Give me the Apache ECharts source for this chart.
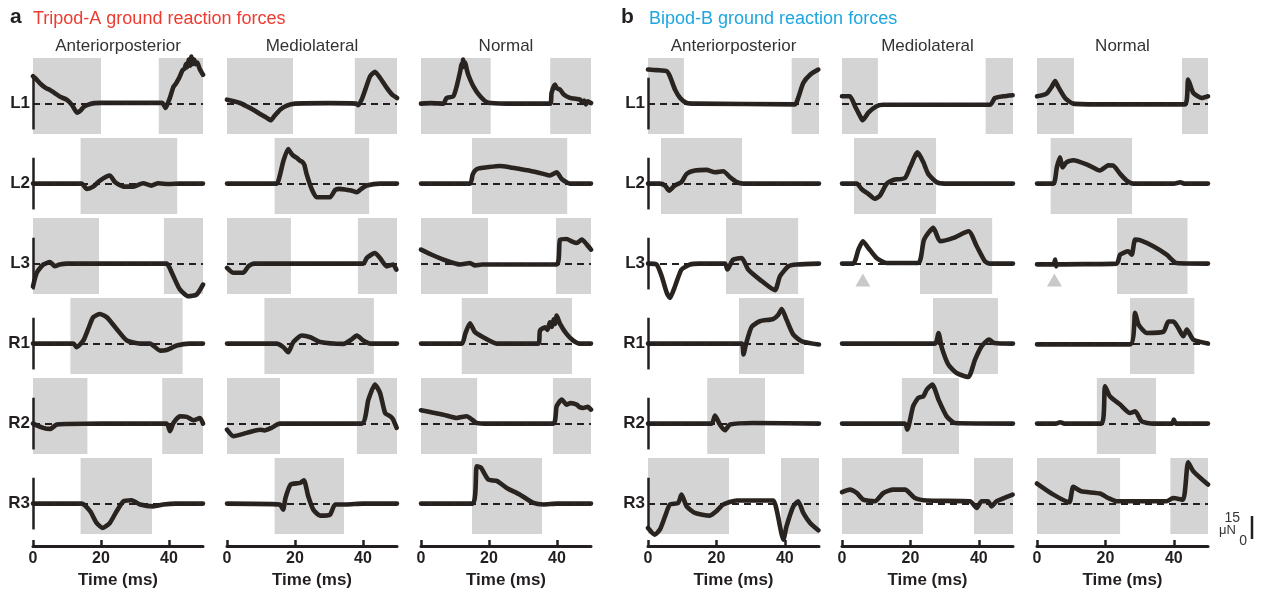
<!DOCTYPE html>
<html><head><meta charset="utf-8">
<script src="https://cdn.jsdelivr.net/npm/echarts@6/dist/echarts.min.js"></script>
<style>html,body{margin:0;padding:0;background:#fff}#c{width:1261px;height:594px}</style>
</head><body><div id="c"></div>
<script>
const rows = ['L1','L2','L3','R1','R2','R3'];
const columns = ['Anteriorposterior','Mediolateral','Normal'];
const timeTicks = [0, 20, 40];

// ---- Tripod-A traces: [time ms, force μN]
const A_AP_L1 = [[0,18],[1,16],[2,13.5],[3,11.5],[4,10],[5,9],[6,7.5],[8,4.5],[10,2.5],[11.5,-1],[13,-6],[14,-4.5],[15,-2],[16.3,-0.7],[18,0.3],[20,0.5],[30,0.5],[38,0.5],[38.5,-1],[39,-2.8],[39.6,0],[40.3,4],[41.3,11],[42,13],[42.5,15],[43,17],[44,22],[44.6,23],[45,26],[45.4,24],[45.8,29],[46.2,25],[46.6,31],[47,26],[47.4,29],[47.8,26],[48.3,27],[49,23],[50,19]];
const A_AP_L2 = [[0,0],[14.3,0],[15.8,-3.5],[17.7,-2],[19.7,2],[22.6,5.3],[24.1,1],[26.6,-2],[29.5,-2],[32.4,0.2],[34.8,-1.3],[36.8,0.2],[40,-0.3],[43,0],[50,0]];
const A_AP_L3 = [[0,-15],[1.1,-6],[3,-0.7],[5,1],[6.4,-1.7],[7.8,-0.6],[10,0],[20,0],[39.3,0],[40,-2],[41.3,-8.3],[43.2,-17],[45.7,-21.5],[48.1,-20.4],[50,-13.8]];
const A_AP_R1 = [[0,0],[11.9,0],[12.8,-2.4],[14.8,2],[16.3,10],[17.7,17.3],[19.7,19.5],[21.7,17.3],[24.6,9.6],[27.6,2],[31.5,0],[34.4,0],[37.4,-4.6],[39.3,-4.2],[42.3,-1.3],[46,0],[50,0]];
const A_AP_R2 = [[0,0],[3,-2.8],[5,-3.5],[7,-0.6],[10,-0.3],[20,0],[39.3,0],[40.3,-5],[41.3,0.4],[43.2,4.8],[45.2,4.4],[47.2,2.2],[49.1,3.7],[50,0]];
const A_AP_R3 = [[0,0],[14.3,0],[16.8,-5],[18.7,-12.7],[20.5,-16],[22.6,-12.7],[24.6,-5],[26.6,1.5],[29,2.2],[31.5,-0.6],[35.4,-1.8],[38.3,-0.6],[42,0],[50,0]];

const A_ML_L1 = [[0,2.6],[2,1.5],[3.8,0.4],[6,-2],[7.7,-4],[9.5,-6.5],[11.7,-9.4],[12.8,-11],[14,-8],[15.6,-4],[17.6,-1.3],[20,0],[30,0.3],[38,0],[38.6,-1],[39.6,2.6],[40.8,10],[42.1,18],[43.5,21],[45,17],[47,10.3],[48.5,6],[50,3.7]];
const A_ML_L2 = [[0,0],[14.6,0],[15.5,5],[16.6,15],[18,22.8],[19,19.5],[19.5,18.4],[20.5,17],[21.5,15],[22,14.5],[22.4,13.6],[22.8,12],[23.4,6.4],[24.9,-3.5],[26.4,-9],[30.3,-9],[31.8,-4.2],[33,-3.5],[35,-4],[36.5,-4.5],[38.2,-5.7],[39.5,-3.5],[41.1,-1.3],[45,0],[50,0]];
const A_ML_L3 = [[0,-2.8],[1.9,-6],[4.8,-6],[6.3,-1.7],[8,0],[40.1,0],[41.1,3.7],[43.5,7],[45,3.7],[47,-1.8],[48.9,-0.6],[49.8,-4]];
const A_ML_R1 = [[0,0],[14.6,0],[16.6,-2.4],[18,-5.7],[19.5,1],[22,5.3],[24.5,4.2],[27.4,1],[34.3,-0.2],[36.5,2.5],[38.2,5.3],[40.1,2],[42.1,0],[50,0]];
const A_ML_R2 = [[0,-4],[1.9,-8.3],[5.8,-6.1],[9.7,-4],[11,-4.5],[13.1,-2.8],[15.5,0],[39.6,0],[41.6,15.8],[43.5,25.7],[45,20.2],[46.5,7],[48,4.8],[48.8,3],[49.9,-2.8]];
const A_ML_R3 = [[0,0],[15.5,-0.6],[16.5,-4],[17.2,3.7],[18.7,12.5],[21.5,13.6],[22.6,15.4],[23.9,4.8],[25.4,-4],[27.4,-7.9],[30.3,-7.2],[31.8,-0.6],[35,-0.6],[40,0],[50,0]];

const A_N_L1 = [[0,0],[3,0.3],[6.6,0],[7.5,3.7],[9.5,4.8],[10.5,11.4],[11.2,18],[11.6,22],[11.9,26],[12.2,24],[12.4,29],[12.7,25],[13,27],[13.4,23],[13.9,19],[15.4,11.4],[17.4,4.8],[19.8,0.5],[25,0],[38,0],[38.4,7],[39.4,12.5],[40,10],[40.9,9.2],[42,6],[43.8,3.7],[45,3.3],[46.8,2.6],[47.5,0.5],[48,2],[48.5,-0.5],[49,1.5],[50,0.4]];
const A_N_L2 = [[0,0],[14.4,0],[15.2,6],[15.9,8.6],[17,10],[19.3,10.7],[23.2,11.6],[26,10.8],[29.1,9.6],[32,8.5],[36,6.4],[37.9,5.3],[39.9,7.5],[41.4,3],[43.8,0],[50,0]];
const A_N_L3 = [[0,9.2],[3,6],[6.6,2.6],[9,0.8],[11.5,-0.6],[14.4,0.4],[15.9,-1.2],[18,-0.6],[39.9,-0.6],[40.9,15.8],[42.8,16.2],[44.5,14.5],[45.8,13.6],[47.3,15.8],[48.8,12.5],[50,9.2]];
const A_N_R1 = [[0,0],[12,0],[13,6.4],[14.4,13.4],[15.9,7.5],[18.3,4.2],[22.3,0],[34.5,0],[35,8.6],[36.5,10.7],[37.2,9],[37.9,14],[38.5,11],[39,16],[39.5,13],[39.9,18.4],[40.9,13],[42.8,6.4],[44.8,2],[46.7,0],[50,0]];
const A_N_R2 = [[0,8.8],[3,7.5],[6.6,5.9],[10.5,3.7],[13.4,4.8],[16.4,0.4],[20,0],[38.9,0],[39.9,11.4],[41.4,15.8],[42.8,12.5],[44,13.5],[45.8,12.5],[46.5,11],[47.7,10.3],[49,11],[50,9.2]];
const A_N_R3 = [[0,0],[15.2,0],[16.4,24.5],[17.6,23.7],[19.8,15.8],[22.3,14.9],[25.2,10.3],[29.1,5.9],[33.1,0.4],[36,-0.6],[40,0],[50,0]];

// ---- Bipod-B traces
const B_AP_L1 = [[0,22.4],[2.6,22],[5.5,21.3],[6.4,18],[7.9,9.2],[9.4,3.7],[11.3,0.4],[14,0],[43,-0.5],[43.9,3.7],[45.4,13.6],[47.4,19],[49.8,22.4]];
const B_AP_L2 = [[0,0],[3.5,0],[5,-1.3],[6.2,-4.6],[7.8,-1.3],[9.8,1],[11.3,6.4],[13.7,8.6],[17.1,9],[19.6,7.5],[22,8.1],[24,4.2],[26,1],[27.9,0],[50,0]];
const B_AP_L3 = [[0,0],[2.5,-0.6],[4,-8.3],[5.5,-19.3],[6.4,-22.6],[7.9,-14.9],[9.8,-3.9],[12.3,-0.6],[15,0],[22.5,0],[23.2,-3.9],[24.9,2.6],[27.4,3.7],[29.3,-3.9],[32.7,-10.5],[37.1,-17.5],[38.6,-8.3],[41.1,-1.7],[43.6,-0.6],[50,0]];
const B_AP_R1 = [[0,0],[27.4,0],[27.9,-7.2],[28.7,0],[30.3,11],[32.7,14.7],[36.6,16.2],[38.1,19],[39.1,22.8],[40.5,15.8],[42.5,5.9],[45,1.5],[50,-0.6]];
const B_AP_R2 = [[0,0],[18.6,0],[19.6,5.3],[21,-0.6],[22.5,-4.4],[24,-0.6],[30.8,0.4],[50,0]];
const B_AP_R3 = [[0,-16],[2,-20.4],[3.5,-17],[5,-8.3],[6.4,-0.6],[8.8,0.4],[9.8,5.9],[11.3,-1.8],[13.7,-6.1],[18.1,-7.9],[20,-5],[22,-0.6],[25.9,2],[36.6,2],[37.6,-4],[39.6,-23.7],[40.5,-15],[42.5,-1.8],[43.9,1.5],[45.4,-6.1],[47.4,-12.7],[49.8,-17.5]];

const B_ML_L1 = [[0,4.8],[2.3,4.8],[3.8,-1.7],[5.3,-8.3],[6,-11],[7.7,-6],[10.1,-1.8],[12,-0.8],[43.3,-0.8],[44.7,3.7],[47.1,4.8],[49.9,5.5]];
const B_ML_L2 = [[0,0],[4.3,0],[5.7,-3.5],[7.7,-6.8],[9.6,-10],[11.1,-7.9],[13.1,0],[15,2.4],[18.4,3.7],[19.9,10.7],[22.1,20.6],[23.8,14],[25.2,6.4],[27.7,0.9],[30,0],[50,0]];
const B_ML_L3 = [[0,0],[3.3,0],[4.8,9.2],[6.1,14.7],[7.7,10.3],[10.1,3.7],[13,0.4],[22.3,0.4],[24,15.8],[26.7,23.5],[28.7,14.7],[32.6,16.9],[37,21.3],[39.4,11.4],[41.8,1.5],[43.3,0],[50,0]];
const B_ML_R1 = [[0,0],[27.2,0],[28.2,7],[29.2,-2.8],[31.1,-13.8],[33.5,-19.3],[36.9,-22],[38.9,-10.5],[40.8,-1.8],[43,2.6],[44.5,0.4],[50,0]];
const B_ML_R2 = [[0,0],[18.4,0],[19.1,-3.9],[20.8,11.4],[22.3,16.9],[23.8,18],[24.8,22.4],[26.4,25.7],[28.2,15.8],[30.6,4.8],[33.1,0.4],[50,0]];
const B_ML_R3 = [[0,7.5],[2.3,9.2],[4.3,7],[6.2,2.6],[9.6,1.5],[12.1,7],[15,9.2],[18.4,9.2],[21.3,3.7],[24.7,2],[37.4,1.5],[39.4,-2.8],[40.8,1.5],[42.7,1.5],[43.7,-1.8],[45.2,1.5],[49.9,5.9]];

const B_N_L1 = [[0,4.8],[2.8,6.6],[4.3,11],[5.3,14.9],[6.2,11],[8.2,3.7],[10.6,0],[20,-0.5],[30,-0.5],[43.3,-0.5],[44.2,15.8],[45.7,7],[48.2,3.7],[50,4.8]];
const B_N_L2 = [[0,0],[4.8,0],[5.8,10.7],[6.7,17.3],[7.5,10.7],[8.6,14],[10.6,15.4],[14.5,12.7],[18.4,8.6],[19.9,10.7],[20.8,12],[22.3,11.8],[24.3,6.4],[26.2,2],[28.2,0],[40,0],[41.9,0.9],[43,0],[50,0]];
const B_N_L3 = [[0,-0.5],[4.8,-0.5],[5.3,2.6],[5.6,-1.8],[6,-0.5],[23.3,0],[24.3,5.9],[26.7,8.1],[27.7,5.9],[28.7,15.8],[30.1,15.4],[34,11.4],[37.9,5.9],[40.8,0.4],[50,0]];
const B_N_R1 = [[0,-0.5],[27.2,-0.5],[28.7,20.2],[29.7,12.5],[32.1,7],[37,7.9],[38.4,14.5],[39.9,14.5],[41.3,10.3],[42.8,4.8],[43.8,9.2],[45.7,2.6],[50,0]];
const B_N_R2 = [[0,0],[5.5,0],[6.8,0.9],[8,0],[18.9,0],[19.9,24.6],[21.3,18],[24.3,12.5],[27.2,7],[28.7,8.1],[30.6,1.5],[34,0],[39.5,0],[40,2.6],[40.6,0],[50,0]];
const B_N_R3 = [[0,13.2],[4.8,5.9],[9.4,0.9],[10.6,11],[12.9,8.1],[18.4,6.6],[20.8,3.7],[23.3,1.5],[37.9,1.5],[39.8,3.7],[42.7,2.6],[44.2,27.2],[45.7,21.3],[50,12.5]];

// ---- stance (shaded) intervals in ms, per row L1..R3
const stanceA_AP = [[[0,20],[37,50]],[[14,42.4]],[[0,19.4],[38.5,50]],[[11,44]],[[0,16],[38,50]],[[14,35]]];
const stanceA_ML = [[[0,19.4],[37.6,50]],[[14,41.8]],[[0,18.8],[38.5,50]],[[11,43.2]],[[0,15.6],[38.2,50]],[[14,34.4]]];
const stanceA_N  = [[[0,20.5],[38,50]],[[15,43]],[[0,19.7],[39.7,50]],[[12,44.4]],[[0,16.5],[38.8,50]],[[15,35.6]]];
const stanceB_AP = [[[0,10.5],[42,50]],[[3.8,27.5]],[[22.8,43.9]],[[26.6,45.6]],[[17.3,34.2]],[[0,23.7],[38.9,50]]];
const stanceB_ML = [[[0,10.5],[42,50]],[[3.5,27.5]],[[22.8,43.9]],[[26.6,45.6]],[[17.5,34.2]],[[0,23.7],[38.6,50]]];
const stanceB_N  = [[[0,10.8],[42.4,50]],[[4,27.8]],[[23.4,44]],[[27.2,46]],[[17.5,34.8]],[[0,24.3],[39,50]]];

// ---- gray triangle markers on Bipod-B L3 (time ms, μN) per column
const triangleB_L3 = [[5.8,-30],[6.1,-10.8],[5.1,-10.8]];

const panels = [
  { title:'Tripod-A ground reaction forces', letter:'a', color:'#ee3b30',
    traces:[[A_AP_L1,A_AP_L2,A_AP_L3,A_AP_R1,A_AP_R2,A_AP_R3],[A_ML_L1,A_ML_L2,A_ML_L3,A_ML_R1,A_ML_R2,A_ML_R3],[A_N_L1,A_N_L2,A_N_L3,A_N_R1,A_N_R2,A_N_R3]],
    stance:[stanceA_AP,stanceA_ML,stanceA_N], lefts:[33,227,421], width:170, letterX:10, titleX:33 },
  { title:'Bipod-B ground reaction forces', letter:'b', color:'#1ea6e0',
    traces:[[B_AP_L1,B_AP_L2,B_AP_L3,B_AP_R1,B_AP_R2,B_AP_R3],[B_ML_L1,B_ML_L2,B_ML_L3,B_ML_R1,B_ML_R2,B_ML_R3],[B_N_L1,B_N_L2,B_N_L3,B_N_R1,B_N_R2,B_N_R3]],
    stance:[stanceB_AP,stanceB_ML,stanceB_N], lefts:[648,842,1037], width:171, letterX:621, titleX:649 }
];

const INK = '#231f20';
const FONT = '"Liberation Sans", Arial, sans-serif';
const grids = [], xAxes = [], yAxes = [], series = [], graphics = [];
let gi = 0;
panels.forEach((p, pi) => {
  graphics.push({type:'text', x:p.letterX, y:17, style:{text:p.letter, font:'bold 21px ' + FONT, fill:INK, textVerticalAlign:'middle'}});
  graphics.push({type:'text', x:p.titleX, y:19, style:{text:p.title, font:'18px ' + FONT, fill:p.color, textVerticalAlign:'middle'}});
  p.traces.forEach((col, ci) => {
    const left = p.lefts[ci];
    graphics.push({type:'text', x:left + p.width/2, y:46, style:{text:columns[ci], font:'17px ' + FONT, fill:'#333', textAlign:'center', textVerticalAlign:'middle'}});
    col.forEach((data, ri) => {
      const top = 58 + 80*ri;
      grids.push({left:left, top:top, width:p.width, height:76});
      const bottom = ri === 5;
      xAxes.push({
        gridIndex:gi, type:'value', min:0, max:50, show:bottom, offset:12, position:'bottom',
        axisLine:{show:bottom, onZero:false, lineStyle:{color:INK, width:3}},
        axisTick:{show:bottom, inside:true, length:6, customValues:timeTicks, lineStyle:{color:INK, width:2.5}},
        axisLabel:{show:bottom, customValues:timeTicks, fontWeight:'bold', fontSize:16, color:INK, margin:5, fontFamily:FONT},
        splitLine:{show:false},
        name: bottom ? 'Time (ms)' : '', nameLocation:'middle', nameGap:26,
        nameTextStyle:{fontWeight:'bold', fontSize:17, color:INK, fontFamily:FONT}
      });
      yAxes.push({
        gridIndex:gi, type:'value', min:-20, max:30, interval:10,
        axisLine:{show:false}, axisTick:{show:false}, splitLine:{show:false},
        axisLabel:{show:ci===0, formatter:(v)=> v===0 ? rows[ri] : '', fontWeight:'bold', fontSize:17, color:INK, margin:3, fontFamily:FONT}
      });
      const mlData = [{yAxis:0}];
      if (ci === 0) mlData.push([{coord:[0,-17], lineStyle:{type:'solid', width:2.5, color:INK}}, {coord:[0,17]}]);
      const s = {
        type:'line', xAxisIndex:gi, yAxisIndex:gi, data:data, symbol:'none', showSymbol:false, clip:false,
        smooth:0.2,
        lineStyle:{color:'#2a2421', width:4.6, cap:'round', join:'round'}, z:3,
        markArea:{silent:true, itemStyle:{color:'#d4d4d4'}, data:p.stance[ci][ri].map(([a,b]) => [{xAxis:a},{xAxis:b}])},
        markLine:{silent:true, symbol:['none','none'], label:{show:false}, lineStyle:{type:[7,5], color:INK, width:2}, data:mlData}
      };
      if (pi === 1 && ri === 2) {
        s.markPoint = {silent:true, symbol:'triangle', symbolSize:[15,13], itemStyle:{color:'#c9c9c9'}, label:{show:false},
          data:[{coord:triangleB_L3[ci]}]};
      }
      series.push(s);
      gi++;
    });
  });
});

// scale bar (15 μN)
graphics.push({type:'line', shape:{x1:1252, y1:516, x2:1252, y2:539}, style:{stroke:INK, lineWidth:2.5}});
graphics.push({type:'text', x:1240, y:518, style:{text:'15', font:'14px ' + FONT, fill:'#333', textAlign:'right', textVerticalAlign:'middle'}});
graphics.push({type:'text', x:1236, y:530, style:{text:'μN', font:'13px ' + FONT, fill:'#333', textAlign:'right', textVerticalAlign:'middle'}});
graphics.push({type:'text', x:1247, y:541, style:{text:'0', font:'14px ' + FONT, fill:'#333', textAlign:'right', textVerticalAlign:'middle'}});

const chart = echarts.init(document.getElementById('c'), null, {renderer:'canvas'});
chart.setOption({
  animation:false, backgroundColor:'#fff',
  grid:grids, xAxis:xAxes, yAxis:yAxes, series:series, graphic:graphics
});
</script></body></html>
